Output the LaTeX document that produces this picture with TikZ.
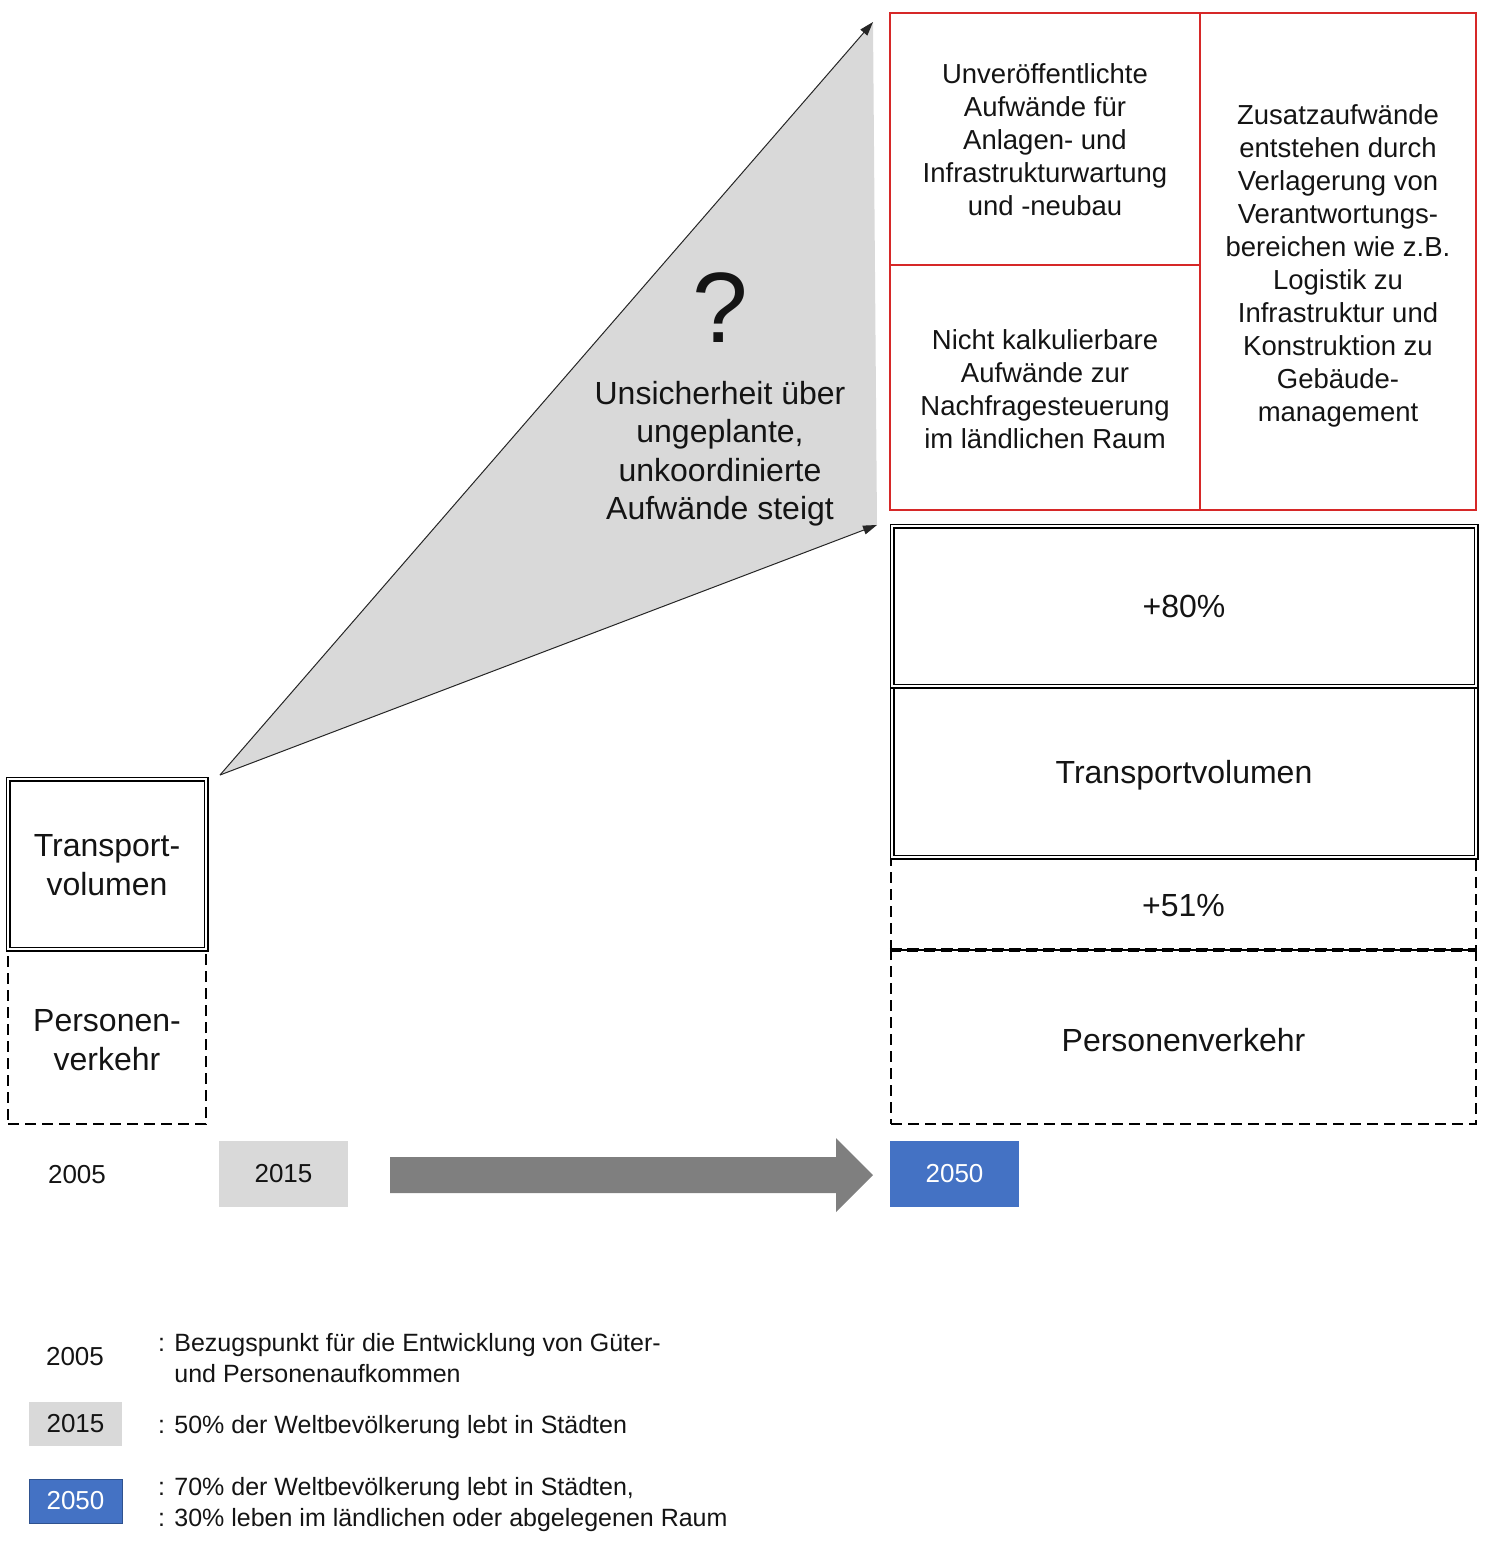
\documentclass[tikz,border=0pt]{standalone}
\usepackage{fontspec}
\setmainfont{Liberation Sans}
\usetikzlibrary{arrows.meta}
\definecolor{redline}{RGB}{214,40,40}
\definecolor{lightgr}{RGB}{217,217,217}
\definecolor{arrgr}{RGB}{127,127,127}
\definecolor{blue50}{RGB}{68,114,196}
\definecolor{blue50d}{RGB}{47,82,143}
\definecolor{txt}{RGB}{20,20,20}
\begin{document}
\begin{tikzpicture}[x=1pt,y=-1pt,
  every node/.style={inner sep=0pt, text=txt},
  bigfont/.style={font=\fontsize{32pt}{38.5pt}\selectfont, align=center},
  midfont/.style={font=\fontsize{27.5pt}{33pt}\selectfont, align=center},
  smallfont/.style={font=\fontsize{25pt}{31pt}\selectfont},
  yearfont/.style={font=\fontsize{26pt}{31pt}\selectfont},
  dbox/.style={draw=black, double=white, double distance=2pt, line width=1.5pt},
  dashbox/.style={draw=black, dash pattern=on 11pt off 6pt, line width=2.2pt},
  redcell/.style={draw=redline, line width=2pt},
  conn/.style={draw=black!85, line width=1pt, -{Triangle[length=14pt,width=9pt]}},
  yearbox/.style={minimum width=129pt, minimum height=66pt, yearfont},
  legbox/.style={minimum width=93pt, minimum height=44pt, yearfont},
  legtext/.style={anchor=west, align=left, smallfont}
]
\useasboundingbox (0,0) rectangle (1486,1542);

% uncertainty triangle
\coordinate (apex) at (220,775);
\coordinate (ttop) at (873,22);
\coordinate (tbot) at (877,525);
\fill[lightgr] (apex) -- (ttop) -- (tbot) -- cycle;
\draw[conn] (apex) -- (ttop);
\draw[conn] (apex) -- (tbot);
\node[font=\fontsize{100pt}{100pt}\selectfont] (qm) at (720,308) {?};
\node[bigfont] (unsich) at (720,453.5) {Unsicherheit über\\ungeplante,\\unkoordinierte\\Aufwände steigt};

% red cells
\node[redcell, minimum width=310pt, minimum height=252pt] (rtl) at (1045,139) {};
\node[redcell, minimum width=310pt, minimum height=245pt] (rbl) at (1045,387.5) {};
\node[redcell, minimum width=276pt, minimum height=497pt] (rr) at (1338,261.5) {};
\node[midfont] (rtlt) at ([yshift=-1pt]rtl.center)
  {Unveröffentlichte\\Aufwände für\\Anlagen- und\\Infrastrukturwartung\\und -neubau};
\node[midfont] (rblt) at ([yshift=-2pt]rbl.center)
  {Nicht kalkulierbare\\Aufwände zur\\Nachfragesteuerung\\im ländlichen Raum};
\node[midfont] (rrt) at ([yshift=-4pt]rr.center)
  {Zusatzaufwände\\entstehen durch\\Verlagerung von\\Verantwortungs-\\bereichen wie z.B.\\Logistik zu\\Infrastruktur und\\Konstruktion zu\\Gebäude-\\management};

% 2050 stack
\node[dashbox, minimum width=585pt, minimum height=174pt] (pv2) at (1183.5,1037) {};
\node[dashbox, minimum width=585pt, minimum height=91pt] (p51) at (1183.5,903.5) {};
\draw[black, dash pattern=on 11pt off 6pt, line width=3.5pt] (p51.south west) -- (p51.south east);
\node[dbox, minimum width=584pt, minimum height=171pt] (tv2) at (1184,771.5) {};
\node[dbox, minimum width=584pt, minimum height=160pt] (p80) at (1184,606) {};
\node[bigfont] (pv2t) at ([yshift=-3pt]pv2.center) {Personenverkehr};
\node[bigfont] (p51t) at ([yshift=-2pt]p51.center) {+51\%};
\node[bigfont] (tv2t) at ([yshift=-4pt]tv2.center) {Transportvolumen};
\node[bigfont] (p80t) at ([yshift=0pt]p80.center) {+80\%};

% 2005 stack
\node[dashbox, minimum width=198pt, minimum height=175pt] (pv1) at (107,1036.5) {};
\node[dbox, minimum width=198pt, minimum height=170pt] (tv1) at (107,864) {};
\node[bigfont] (pv1t) at ([yshift=-3.5pt]pv1.center) {Personen-\\verkehr};
\node[bigfont] (tv1t) at ([yshift=-1pt]tv1.center) {Transport-\\volumen};

% timeline
\node[yearfont] (y2005) at (77,1175) {2005};
\node[yearbox, fill=lightgr] (y2015) at (283.5,1174) {2015};
\node[yearbox, fill=blue50, text=white] (y2050) at (954.5,1174) {2050};
\fill[arrgr] (390,1157) -- (836,1157) -- (836,1138) -- (873,1175) -- (836,1212) -- (836,1193) -- (390,1193) -- cycle;

% legend
\node[yearfont] (l2005) at (75,1357) {2005};
\node[legtext] (t2005) at (158,1358.5) {: Bezugspunkt für die Entwicklung von Güter-\\\phantom{: }und Personenaufkommen};
\node[legbox, fill=lightgr] (l2015) at (75.5,1424) {2015};
\node[legtext] (t2015) at (158,1427) {: 50\% der Weltbevölkerung lebt in Städten};
\node[legbox, fill=blue50, draw=blue50d, line width=0.8pt, text=white] (l2050) at (75.5,1501) {2050};
\node[legtext] (t2050) at (158,1504.5) {: 70\% der Weltbevölkerung lebt in Städten,\\: 30\% leben im ländlichen oder abgelegenen Raum};
\end{tikzpicture}
\end{document}
